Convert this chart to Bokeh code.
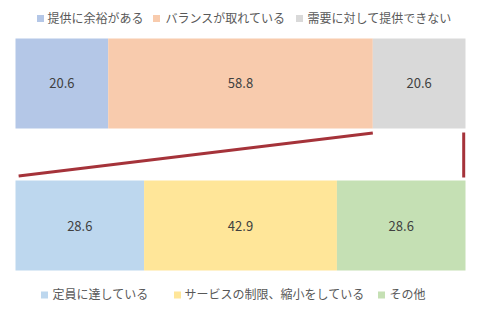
from bokeh.plotting import figure
from bokeh.models import Range1d
from bokeh.core.properties import value
from bokeh.embed import file_html
from bokeh.resources import INLINE

top_categories = ["提供に余裕がある", "バランスが取れている", "需要に対して提供できない"]
top_values = [20.6, 58.8, 20.6]
top_colors = ["#b4c7e7", "#f8cbad", "#d9d9d9"]

bottom_categories = ["定員に達している", "サービスの制限、縮小をしている", "その他"]
bottom_values = [28.6, 42.9, 28.6]
bottom_colors = ["#bdd7ee", "#ffe699", "#c5e0b4"]

W, H = 488, 313
PX = 4.5  # pixels per percent
X0 = 15
p = figure(width=W, height=H, output_backend="svg", toolbar_location=None,
           x_range=Range1d(-X0 / PX, (W - X0) / PX), y_range=Range1d(H, 0),
           min_border=0)
p.axis.visible = False
p.grid.visible = False
p.outline_line_color = None
p.background_fill_color = "white"

FONT = value("Noto Sans CJK JP")

def cum(vals):
    lefts, rights, s = [], [], 0.0
    for v in vals:
        lefts.append(s)
        s += v
        rights.append(s)
    return lefts, rights

def draw_bar(vals, colors, y_top, y_bot):
    tot = sum(vals)
    vals = [v * 100.0 / tot for v in vals]
    l, r = cum(vals)
    p.quad(left=l, right=r, top=[y_top] * 3, bottom=[y_bot] * 3,
           fill_color=colors, line_color=None)
    return l, r

tl, tr = draw_bar(top_values, top_colors, 38, 128)
p.text(x=[(a + b) / 2 for a, b in zip(tl, tr)], y=[82.5] * 3,
       text=[f"{v:.1f}" for v in top_values], text_align="center",
       text_baseline="middle", text_font=FONT, text_font_size="13px",
       text_color="#404040")

bl, br = draw_bar(bottom_values, bottom_colors, 180, 270)
p.text(x=[(a + b) / 2 for a, b in zip(bl, br)], y=[225] * 3,
       text=[f"{v:.1f}" for v in bottom_values], text_align="center",
       text_baseline="middle", text_font=FONT, text_font_size="13px",
       text_color="#404040")

# connector lines
p.line(x=[bl[0] + 0.7, tr[1]], y=[175.5, 132.5], line_color="#a5333a", line_width=3)
p.line(x=[br[2] - 0.4, br[2] - 0.4], y=[132, 177], line_color="#a5333a", line_width=3)

# legends
def legend(cats, colors, sq_px, txt_px, y):
    xs = [(s - X0) / PX for s in sq_px]
    p.scatter(x=xs, y=[y + 1.5] * 3, marker="square", size=7,
              fill_color=colors, line_color=None)
    p.text(x=[(t - X0) / PX for t in txt_px], y=[y] * 3, text=cats,
           text_align="left", text_baseline="middle", text_font=FONT,
           text_font_size="12px", text_color="#595959")

legend(top_categories, top_colors, [40, 156, 299], [47, 165, 307], 16.5)
legend(bottom_categories, bottom_colors, [44, 177, 381], [52, 184, 389], 293)

open("out.html", "w").write(file_html(p, INLINE))
